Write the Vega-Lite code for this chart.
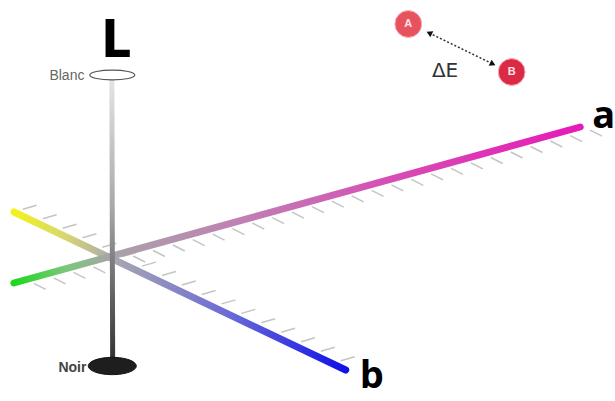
{
  "$schema": "https://vega.github.io/schema/vega-lite/v6.json",
  "width": 615,
  "height": 401,
  "autosize": {"type": "fit", "contains": "padding"},
  "padding": 0,
  "background": "white",
  "config": {"view": {"stroke": null}},
  "datasets": {
    "axes": [
      {"axis": "a", "x": 13, "y": 283},
      {"axis": "a", "x": 583, "y": 127},
      {"axis": "b", "x": 13, "y": 212},
      {"axis": "b", "x": 347, "y": 370}
    ],
    "lightness": [{"x": 111.6, "y": 80}, {"x": 112.4, "y": 362}],
    "hatches": [
      {"axis": "a", "x": 33, "y": 283.4, "x2": 45, "y2": 289.4},
      {"axis": "a", "x": 53, "y": 277.9, "x2": 65, "y2": 283.9},
      {"axis": "a", "x": 73, "y": 272.4, "x2": 85, "y2": 278.4},
      {"axis": "a", "x": 93, "y": 266.9, "x2": 105, "y2": 272.9},
      {"axis": "a", "x": 113, "y": 261.5, "x2": 125, "y2": 267.5},
      {"axis": "a", "x": 133, "y": 256, "x2": 145, "y2": 262},
      {"axis": "a", "x": 153, "y": 250.5, "x2": 165, "y2": 256.5},
      {"axis": "a", "x": 173, "y": 245, "x2": 185, "y2": 251},
      {"axis": "a", "x": 193, "y": 239.6, "x2": 205, "y2": 245.6},
      {"axis": "a", "x": 213, "y": 234.1, "x2": 225, "y2": 240.1},
      {"axis": "a", "x": 233, "y": 228.6, "x2": 245, "y2": 234.6},
      {"axis": "a", "x": 253, "y": 223.1, "x2": 265, "y2": 229.1},
      {"axis": "a", "x": 273, "y": 217.7, "x2": 285, "y2": 223.7},
      {"axis": "a", "x": 293, "y": 212.2, "x2": 305, "y2": 218.2},
      {"axis": "a", "x": 313, "y": 206.7, "x2": 325, "y2": 212.7},
      {"axis": "a", "x": 333, "y": 201.2, "x2": 345, "y2": 207.2},
      {"axis": "a", "x": 353, "y": 195.8, "x2": 365, "y2": 201.8},
      {"axis": "a", "x": 373, "y": 190.3, "x2": 385, "y2": 196.3},
      {"axis": "a", "x": 393, "y": 184.8, "x2": 405, "y2": 190.8},
      {"axis": "a", "x": 413, "y": 179.4, "x2": 425, "y2": 185.4},
      {"axis": "a", "x": 433, "y": 173.9, "x2": 445, "y2": 179.9},
      {"axis": "a", "x": 453, "y": 168.4, "x2": 465, "y2": 174.4},
      {"axis": "a", "x": 473, "y": 162.9, "x2": 485, "y2": 168.9},
      {"axis": "a", "x": 493, "y": 157.5, "x2": 505, "y2": 163.5},
      {"axis": "a", "x": 513, "y": 152, "x2": 525, "y2": 158},
      {"axis": "a", "x": 533, "y": 146.5, "x2": 545, "y2": 152.5},
      {"axis": "a", "x": 553, "y": 141, "x2": 565, "y2": 147},
      {"axis": "a", "x": 573, "y": 135.6, "x2": 585, "y2": 141.6},
      {"axis": "a", "x": 593, "y": 130.1, "x2": 605, "y2": 136.1},
      {"axis": "b", "x": 22, "y": 209.3, "x2": 36, "y2": 205.3},
      {"axis": "b", "x": 42, "y": 218.8, "x2": 56, "y2": 214.8},
      {"axis": "b", "x": 62, "y": 228.2, "x2": 76, "y2": 224.2},
      {"axis": "b", "x": 82, "y": 237.7, "x2": 96, "y2": 233.7},
      {"axis": "b", "x": 102, "y": 247.2, "x2": 116, "y2": 243.2},
      {"axis": "b", "x": 122, "y": 256.6, "x2": 136, "y2": 252.6},
      {"axis": "b", "x": 142, "y": 266.1, "x2": 156, "y2": 262.1},
      {"axis": "b", "x": 162, "y": 275.5, "x2": 176, "y2": 271.5},
      {"axis": "b", "x": 182, "y": 285, "x2": 196, "y2": 281},
      {"axis": "b", "x": 202, "y": 294.5, "x2": 216, "y2": 290.5},
      {"axis": "b", "x": 222, "y": 303.9, "x2": 236, "y2": 299.9},
      {"axis": "b", "x": 242, "y": 313.4, "x2": 256, "y2": 309.4},
      {"axis": "b", "x": 262, "y": 322.8, "x2": 276, "y2": 318.8},
      {"axis": "b", "x": 282, "y": 332.3, "x2": 296, "y2": 328.3},
      {"axis": "b", "x": 302, "y": 341.8, "x2": 316, "y2": 337.8},
      {"axis": "b", "x": 322, "y": 351.2, "x2": 336, "y2": 347.2},
      {"axis": "b", "x": 342, "y": 360.7, "x2": 356, "y2": 356.7}
    ],
    "ends": [
      {"name": "Blanc", "x": 112, "y": 75},
      {"name": "Noir", "x": 112, "y": 366}
    ],
    "endLabels": [
      {"name": "Blanc", "x": 84, "y": 80},
      {"name": "Noir", "x": 86, "y": 372}
    ],
    "axisLabels": [
      {"label": "L", "x": 116, "y": 57},
      {"label": "a", "x": 595, "y": 128},
      {"label": "b", "x": 361, "y": 388}
    ],
    "colours": [
      {"name": "A", "x": 410, "y": 24},
      {"name": "B", "x": 514, "y": 72}
    ],
    "delta": [
      {"x": 431, "y": 33},
      {"x": 495, "y": 64}
    ],
    "deltaLabel": [{"label": "ΔE", "x": 447, "y": 77}]
  },
  "encoding": {
    "x": {"field": "x", "type": "quantitative", "scale": {"domain": [0, 615], "nice": false, "zero": false}, "axis": null},
    "y": {"field": "y", "type": "quantitative", "scale": {"domain": [0, 401], "reverse": true, "nice": false, "zero": false}, "axis": null}
  },
  "layer": [
    {
      "data": {"name": "hatches"},
      "mark": {"type": "rule", "stroke": "#c4c4c4", "strokeWidth": 1.5},
      "encoding": {"x2": {"field": "x2"}, "y2": {"field": "y2"}}
    },
    {
      "data": {"name": "axes"},
      "transform": [{"filter": "datum.axis === 'b'"}],
      "mark": {
        "type": "line", "strokeWidth": 7, "strokeCap": "round",
        "stroke": {"gradient": "linear", "x1": 0, "y1": 0, "x2": 1, "y2": 0,
          "stops": [
            {"offset": 0, "color": "#f2f21a"},
            {"offset": 0.15, "color": "#d8d870"},
            {"offset": 0.3, "color": "#a8a8b0"},
            {"offset": 0.65, "color": "#6a6ad8"},
            {"offset": 1, "color": "#1010e8"}
          ]}
      },
      "encoding": {}
    },
    {
      "data": {"name": "axes"},
      "transform": [{"filter": "datum.axis === 'a'"}],
      "mark": {
        "type": "line", "strokeWidth": 7, "strokeCap": "round",
        "stroke": {"gradient": "linear", "x1": 0, "y1": 0, "x2": 1, "y2": 0,
          "stops": [
            {"offset": 0, "color": "#1ed81e"},
            {"offset": 0.09, "color": "#78c878"},
            {"offset": 0.17, "color": "#a8a4a8"},
            {"offset": 0.4, "color": "#c080b4"},
            {"offset": 0.7, "color": "#d848b4"},
            {"offset": 1, "color": "#e61ab8"}
          ]}
      },
      "encoding": {}
    },
    {
      "data": {"name": "lightness"},
      "mark": {
        "type": "line", "strokeWidth": 5,
        "stroke": {"gradient": "linear", "x1": 0, "y1": 0, "x2": 0, "y2": 1,
          "stops": [
            {"offset": 0, "color": "#e4e4e4"},
            {"offset": 0.45, "color": "#a8a8a8"},
            {"offset": 1, "color": "#303030"}
          ]}
      },
      "encoding": {}
    },
    {
      "data": {"name": "ends"},
      "transform": [{"filter": "datum.name === 'Blanc'"}],
      "mark": {"type": "point", "shape": "M-1,0A1,0.22 0 1,1 1,0A1,0.22 0 1,1 -1,0Z", "size": 2025, "filled": true, "fill": "white", "stroke": "#555555", "strokeWidth": 1.2, "opacity": 1}
    },
    {
      "data": {"name": "ends"},
      "transform": [{"filter": "datum.name === 'Noir'"}],
      "mark": {"type": "point", "shape": "M-1,0A1,0.36 0 1,1 1,0A1,0.36 0 1,1 -1,0Z", "size": 2304, "filled": true, "fill": "#1e1e1e", "stroke": "#111111", "strokeWidth": 1, "opacity": 1}
    },
    {
      "data": {"name": "endLabels"},
      "transform": [{"filter": "datum.name === 'Blanc'"}],
      "mark": {"type": "text", "align": "right", "baseline": "alphabetic", "font": "Liberation Sans", "fontSize": 14, "fill": "#666666"},
      "encoding": {"text": {"field": "name"}}
    },
    {
      "data": {"name": "endLabels"},
      "transform": [{"filter": "datum.name === 'Noir'"}],
      "mark": {"type": "text", "align": "right", "baseline": "alphabetic", "font": "Liberation Sans", "fontSize": 14, "fontWeight": "bold", "fill": "#444444"},
      "encoding": {"text": {"field": "name"}}
    },
    {
      "data": {"name": "axisLabels"},
      "transform": [{"filter": "datum.label === 'L'"}],
      "mark": {"type": "text", "align": "center", "baseline": "alphabetic", "font": "DejaVu Sans Condensed", "fontSize": 52, "fontWeight": "bold", "fill": "#000000"},
      "encoding": {"text": {"field": "label"}}
    },
    {
      "data": {"name": "axisLabels"},
      "transform": [{"filter": "datum.label !== 'L'"}],
      "mark": {"type": "text", "align": "left", "baseline": "alphabetic", "font": "Open Sans", "fontSize": 38, "fontWeight": "bold", "fill": "#000000"},
      "encoding": {"text": {"field": "label"}}
    },
    {
      "data": {"name": "delta"},
      "mark": {"type": "line", "stroke": "#333333", "strokeWidth": 1.5, "strokeDash": [2, 2]},
      "encoding": {}
    },
    {
      "data": {"name": "delta"},
      "mark": {"type": "point", "filled": true, "fill": "#111111", "size": 45, "angle": 26, "opacity": 1},
      "encoding": {
        "shape": {"field": "x", "type": "ordinal", "scale": {"domain": [431, 495], "range": ["triangle-left", "triangle-right"]}, "legend": null}
      }
    },
    {
      "data": {"name": "colours"},
      "mark": {"type": "point", "shape": "circle", "filled": true, "size": 720, "opacity": 1, "stroke": "#f4b0b8", "strokeWidth": 1},
      "encoding": {
        "fill": {"field": "name", "type": "nominal", "scale": {"domain": ["A", "B"], "range": ["#e8525f", "#da2a45"]}, "legend": null}
      }
    },
    {
      "data": {"name": "colours"},
      "mark": {"type": "text", "align": "center", "baseline": "middle", "font": "Liberation Sans", "fontSize": 11, "fontWeight": "bold", "fill": "#fbe4e6"},
      "encoding": {"text": {"field": "name"}}
    },
    {
      "data": {"name": "deltaLabel"},
      "mark": {"type": "text", "align": "center", "baseline": "alphabetic", "font": "DejaVu Sans", "fontSize": 20, "fill": "#333333"},
      "encoding": {"text": {"field": "label"}}
    }
  ]
}
